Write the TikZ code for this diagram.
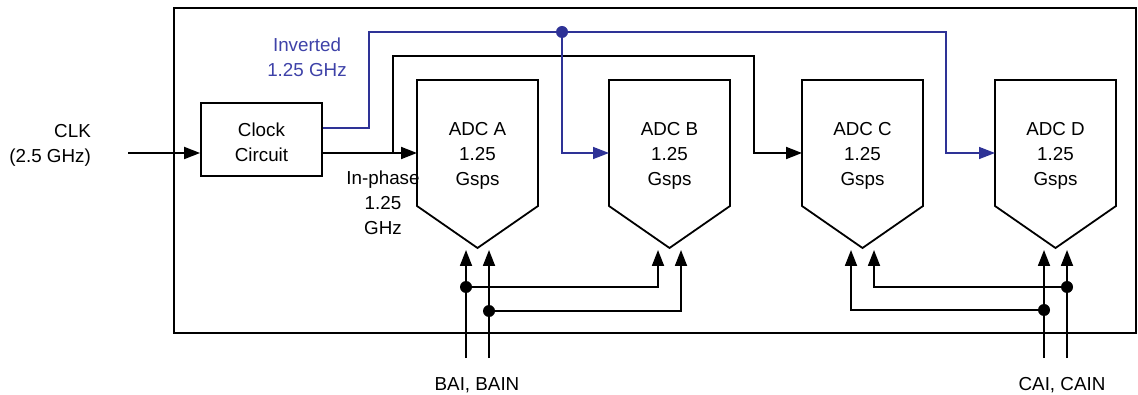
\documentclass[tikz,border=0pt]{standalone}
\usepackage{fontspec}
\setmainfont{Liberation Sans}
\usetikzlibrary{arrows.meta,positioning,calc}
\definecolor{invblue}{RGB}{46,50,150}
\definecolor{invtext}{RGB}{62,66,168}
\tikzset{
  lbl/.style={font=\fontsize{18.8}{25}\selectfont, align=center, inner sep=0pt},
  wire/.style={line width=1.8pt},
  sig/.style={wire, -{Triangle[length=16pt,width=12pt]}},
  inv/.style={line width=1.5pt, draw=invblue, -{Triangle[length=16pt,width=12pt]}},
  dot/.style={fill, radius=6pt}
}
\begin{document}
\begin{tikzpicture}[x=1pt,y=-1pt]
  \useasboundingbox (0,0) rectangle (1138,395);
  % chip outline
  \draw[wire] (174,8) rectangle (1136,333);
  % clock circuit
  \node[draw, line width=1.8pt, minimum width=121pt, minimum height=73pt] (clk) at (261.5,139.5) {};
  \node[lbl] (clktxt) at (261.5,142.5) {Clock\\Circuit};
  \node[lbl, align=right, anchor=east] (clkin) at (91,145.5) {CLK\\(2.5 GHz)};
  \draw[sig] (128,153) -- (clk.west |- 0,153);
  % ADCs
  \foreach \n/\x in {A/477.5,B/669.5,C/862.5,D/1055.5}{
    \draw[wire, line join=miter] (\x-60.5,80) -- (\x+60.5,80) -- (\x+60.5,206) -- (\x,248) -- (\x-60.5,206) -- cycle;
    \node[lbl] (adc\n) at (\x,155.5) {ADC \n\\1.25\\Gsps};
    \coordinate (adc\n-in) at (\x-60.5,153);
    \coordinate (adc\n-p) at (\x-11.5,250);
    \coordinate (adc\n-m) at (\x+11.5,250);
  }
  % in-phase clock
  \coordinate (ip) at (393,153);
  \draw[sig] (clk.east |- adcA-in) -- (adcA-in);
  \draw[sig] (ip) |- (754,56) |- (adcC-in);
  \node[lbl] (iplbl) at (383,203) {In-phase\\1.25\\GHz};
  % inverted clock
  \coordinate (jb) at (562,32);
  \draw[inv] ($(clk.east)+(0,-11.5)$) -| (369,32) -- (jb) -| (946,153) -- (adcD-in);
  \draw[inv] (jb) |- (adcB-in);
  \fill[invblue] (jb) circle[radius=6pt];
  \node[lbl, text=invtext] (invlbl) at (307,57) {Inverted\\1.25 GHz};
  % analog inputs B
  \coordinate (bai) at (466,358);
  \coordinate (bain) at (489,358);
  \coordinate (bj1) at (466,287);
  \coordinate (bj2) at (489,311);
  \draw[sig] (bai) -- (adcA-p);
  \draw[sig] (bain) -- (adcA-m);
  \draw[sig] (bj1) -| (adcB-p);
  \draw[sig] (bj2) -| (adcB-m);
  \fill (bj1) circle[radius=6pt] (bj2) circle[radius=6pt];
  \node[lbl, anchor=base] (bailbl) at (477,390) {BAI, BAIN};
  % analog inputs C
  \coordinate (cai) at (1044,358);
  \coordinate (cain) at (1067,358);
  \coordinate (cj1) at (1067,287);
  \coordinate (cj2) at (1044,310);
  \draw[sig] (cai) -- (adcD-p);
  \draw[sig] (cain) -- (adcD-m);
  \draw[sig] (cj1) -| (adcC-m);
  \draw[sig] (cj2) -| (adcC-p);
  \fill (cj1) circle[radius=6pt] (cj2) circle[radius=6pt];
  \node[lbl, anchor=base] (cailbl) at (1062,390) {CAI, CAIN};
\end{tikzpicture}
\end{document}
